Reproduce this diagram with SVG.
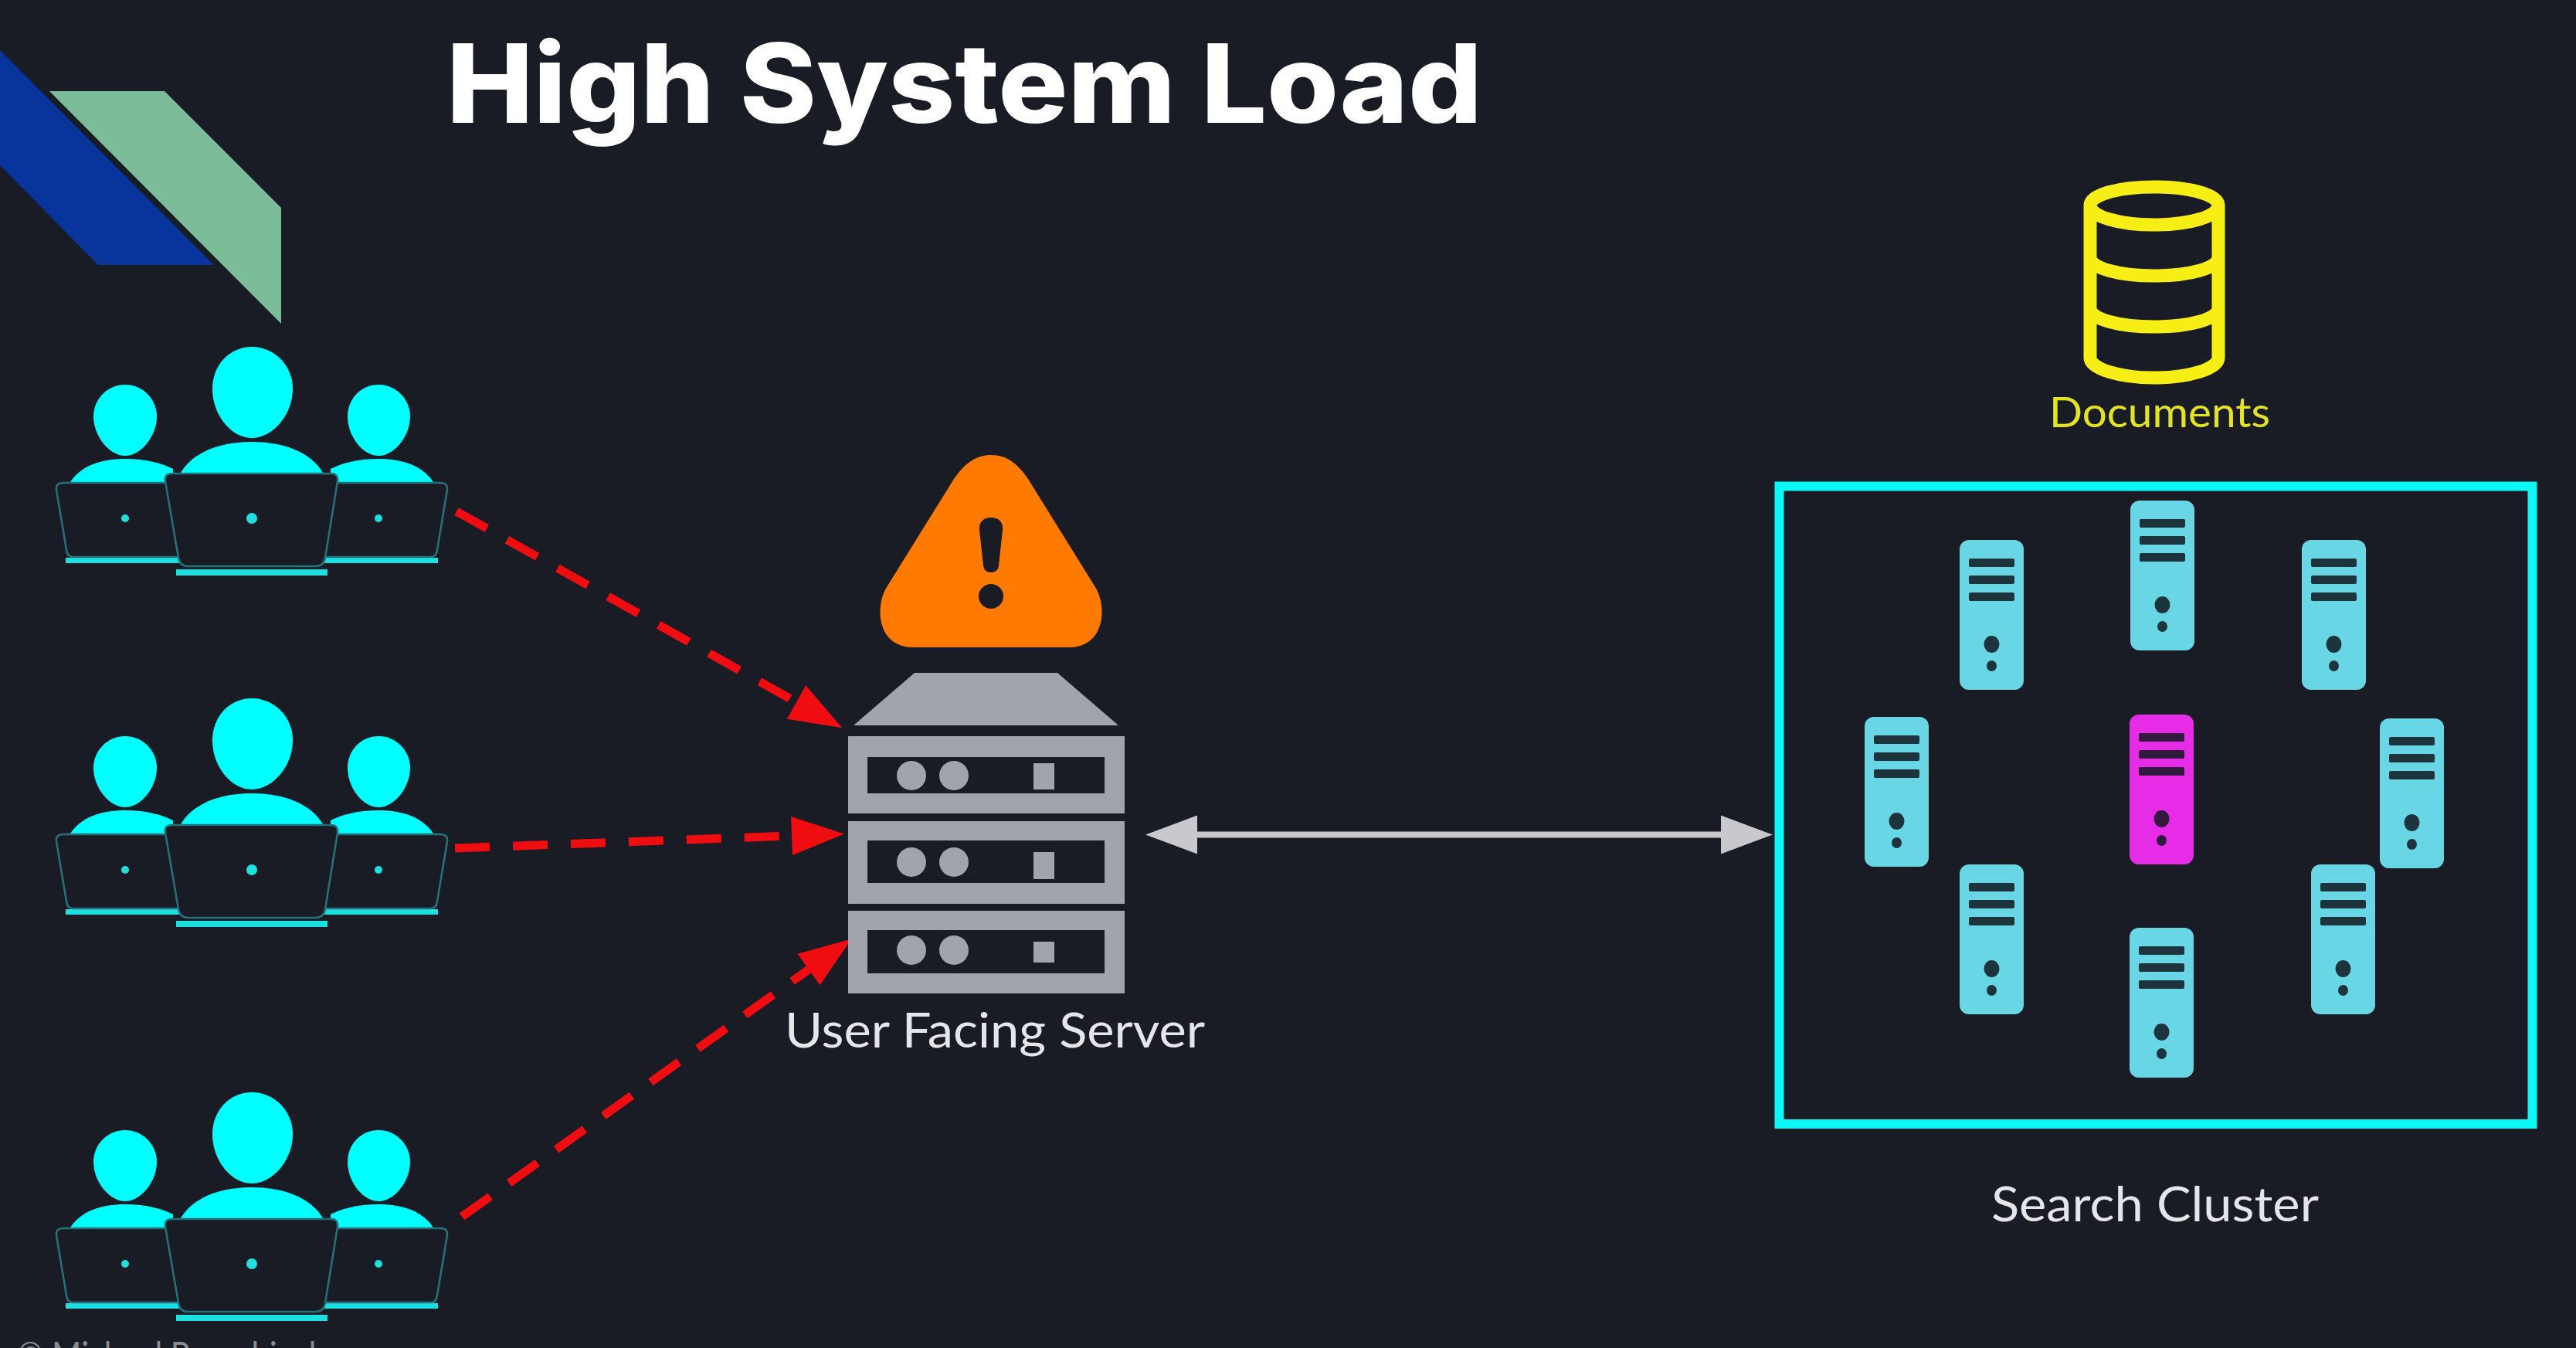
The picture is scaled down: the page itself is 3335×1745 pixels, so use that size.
<svg xmlns="http://www.w3.org/2000/svg" xmlns:xlink="http://www.w3.org/1999/xlink" width="3335" height="1745" viewBox="0 0 3335 1745">
<style>
.lato{font-family:"Lato","Liberation Sans",sans-serif}
.lap{fill:#191c25;stroke:#27727a;stroke-width:2.500}
.cy{fill:#00ffff}
.base{fill:#1ce0e0}
.srv{fill:#a0a4ac}
.win{fill:#191c25}
.bar{fill:#10181f;fill-opacity:.85}
.red{fill:none;stroke:#f00d12;stroke-width:11;stroke-dasharray:45 30;marker-end:url(#redHead)}
.gray{fill:none;stroke:#c9c9cd;stroke-width:8;marker-start:url(#grayHead);marker-end:url(#grayHead)}
.yl{fill:none;stroke:#f6ee14;stroke-width:17;stroke-linecap:round;stroke-linejoin:round}
</style>
<defs>
<marker id="redHead" markerUnits="userSpaceOnUse" markerWidth="70" markerHeight="54" refX="0" refY="27" orient="auto" overflow="visible"><path d="M0 2L68 27L0 52Z" fill="#f00d12"/></marker>
<marker id="grayHead" markerUnits="userSpaceOnUse" markerWidth="68" markerHeight="52" refX="0" refY="26" orient="auto-start-reverse" overflow="visible"><path d="M0 1L67 26L0 51Z" fill="#c9c9cd"/></marker>
<g id="team">
<path class="cy" d="M162 498C185 498 203 517 203 539C203 565 182 590 162 590C142 590 121 565 121 539C121 517 139 498 162 498Z"/>
<path class="cy" d="M490 498C513 498 531 517 531 539C531 565 510 590 490 590C470 590 450 565 450 539C450 517 467 498 490 498Z"/>
<path class="cy" d="M326 449C355 449 379 473 379 503C379 538 352 567 326 567C300 567 275 538 275 503C275 473 297 449 326 449Z"/>
<path class="cy" d="M91 624C105 603 130 594 162 594C190 594 210 600 224 607V624Z"/>
<path class="cy" d="M561 624C547 603 522 594 490 594C462 594 442 600 428 607V624Z"/>
<path class="cy" d="M234 612C250 585 285 572 326 572C367 572 402 585 418 612Z"/>
<rect class="base" x="85" y="722" width="150" height="7"/>
<rect class="base" x="417" y="722" width="150" height="7"/>
<path class="lap" d="M82 625H226L242 721H95Q87 721 86 712L73 634Q72 625 82 625Z"/>
<path class="lap" d="M570 625H426L410 721H557Q565 721 566 712L579 634Q580 625 570 625Z"/>
<path class="lap" d="M223 613H429Q438 613 437 623L421 722Q419 733 409 733H243Q233 733 231 722L214 623Q212 613 223 613Z"/>
<rect class="base" x="228" y="737" width="196" height="8"/>
<circle class="base" cx="162" cy="671" r="5"/>
<circle class="base" cx="326" cy="671" r="7"/>
<circle class="base" cx="490" cy="671" r="5"/>
</g>
<g id="tower">
<rect width="83" height="194" rx="12"/>
<rect class="bar" x="12" y="24" width="59" height="11" rx="2"/>
<rect class="bar" x="12" y="46" width="59" height="11" rx="2"/>
<rect class="bar" x="12" y="68" width="59" height="11" rx="2"/>
<ellipse class="bar" cx="41.500" cy="135" rx="10" ry="11"/>
<ellipse class="bar" cx="41.500" cy="163" rx="6.500" ry="7"/>
</g>
</defs>
<rect width="3335" height="1745" fill="#191c25"/>

<g id="logo">
<path d="M0 65L277 343H127L0 214Z" fill="#07359c"/>
<path d="M64 118H213L364 269V419Z" fill="#7bbd98"/>
</g>
<text id="title" x="578" y="159" font-family="Inter,'Open Sans',sans-serif" font-weight="800" font-size="142" fill="#ffffff" textLength="1341" lengthAdjust="spacingAndGlyphs">High System Load</text>

<g id="connectors">
<path class="red" d="M591 662L1031 909"/>
<path class="red" d="M589 1098L1025 1082"/>
<path class="red" d="M598 1575L1047 1255"/>
<path class="gray" d="M1550 1080.500H2228"/>
</g>

<g id="users-1"><use href="#team"/></g>
<g id="users-2" transform="translate(0 455)"><use href="#team"/></g>
<g id="users-3" transform="translate(0 965)"><use href="#team"/></g>

<g id="warning">
<path d="M1283 589C1304 589 1318 601 1331 620L1418 760C1434 786 1430 838 1384 838H1182C1136 838 1132 786 1148 760L1235 620C1248 601 1262 589 1283 589Z" fill="#ff7a00"/>
<path d="M1283 670C1293 670 1299 676 1298 686L1293 732Q1292 741 1283 741Q1274 741 1273 732L1268 686C1267 676 1273 670 1283 670Z" fill="#191c25"/>
<ellipse cx="1283" cy="772" rx="16" ry="16" fill="#191c25"/>
</g>

<g id="user-facing-server">
<path class="srv" d="M1184 871H1369L1448 939H1105Z"/>
<rect class="srv" x="1098" y="953" width="358" height="100"/>
<rect class="win" x="1123" y="980" width="307" height="47"/>
<circle class="srv" cx="1180" cy="1004" r="19"/><circle class="srv" cx="1235" cy="1004" r="19"/><rect class="srv" x="1338" y="988" width="27" height="34"/>
<rect class="srv" x="1098" y="1063" width="358" height="107"/>
<rect class="win" x="1123" y="1088" width="307" height="55"/>
<circle class="srv" cx="1180" cy="1116" r="19"/><circle class="srv" cx="1235" cy="1116" r="19"/><rect class="srv" x="1338" y="1103" width="27" height="35"/>
<rect class="srv" x="1098" y="1179" width="358" height="107"/>
<rect class="win" x="1123" y="1204" width="307" height="56"/>
<circle class="srv" cx="1180" cy="1230" r="19"/><circle class="srv" cx="1235" cy="1230" r="19"/><rect class="srv" x="1338" y="1219" width="27" height="27"/>
<text class="lato" x="1016" y="1356" font-size="62" fill="#e6e6ea" textLength="544" lengthAdjust="spacingAndGlyphs">User Facing Server</text>
</g>

<g id="documents">
<path class="yl" d="M2706 266C2706 252 2743 242 2789 242C2835 242 2872 252 2872 266C2872 280 2835 291 2789 291C2743 291 2706 280 2706 266ZM2706 266V463C2706 477 2743 489 2789 489C2835 489 2872 477 2872 463V266M2706 333C2706 347 2743 357 2789 357C2835 357 2872 347 2872 333M2706 399C2706 413 2743 423 2789 423C2835 423 2872 413 2872 399"/>
<text class="lato" x="2653" y="553" font-size="54" fill="#e3e31f" textLength="286" lengthAdjust="spacingAndGlyphs">Documents</text>
</g>

<g id="search-cluster">
<rect x="2303.500" y="629.500" width="975" height="825.500" fill="none" stroke="#0cf8f8" stroke-width="12"/>
<g id="node-top" transform="translate(2758 648)"><use href="#tower" fill="#69d6e6"/></g>
<g id="node-top-left" transform="translate(2537 699)"><use href="#tower" fill="#69d6e6"/></g>
<g id="node-top-right" transform="translate(2980 699)"><use href="#tower" fill="#69d6e6"/></g>
<g id="node-left" transform="translate(2414 928)"><use href="#tower" fill="#69d6e6"/></g>
<g id="node-center" transform="translate(2757 925)"><use href="#tower" fill="#e62ce6"/></g>
<g id="node-right" transform="translate(3081 930)"><use href="#tower" fill="#69d6e6"/></g>
<g id="node-bottom-left" transform="translate(2537 1119)"><use href="#tower" fill="#69d6e6"/></g>
<g id="node-bottom-right" transform="translate(2992 1119)"><use href="#tower" fill="#69d6e6"/></g>
<g id="node-bottom" transform="translate(2757 1201)"><use href="#tower" fill="#69d6e6"/></g>
<text class="lato" x="2578" y="1581" font-size="62" fill="#e6e6ea" textLength="424" lengthAdjust="spacingAndGlyphs">Search Cluster</text>
</g>
<text id="copyright" class="lato" x="22" y="1772" font-size="48" fill="#8a8c90" textLength="420" lengthAdjust="spacingAndGlyphs">© Michael Pogrebinsky</text>
</svg>
